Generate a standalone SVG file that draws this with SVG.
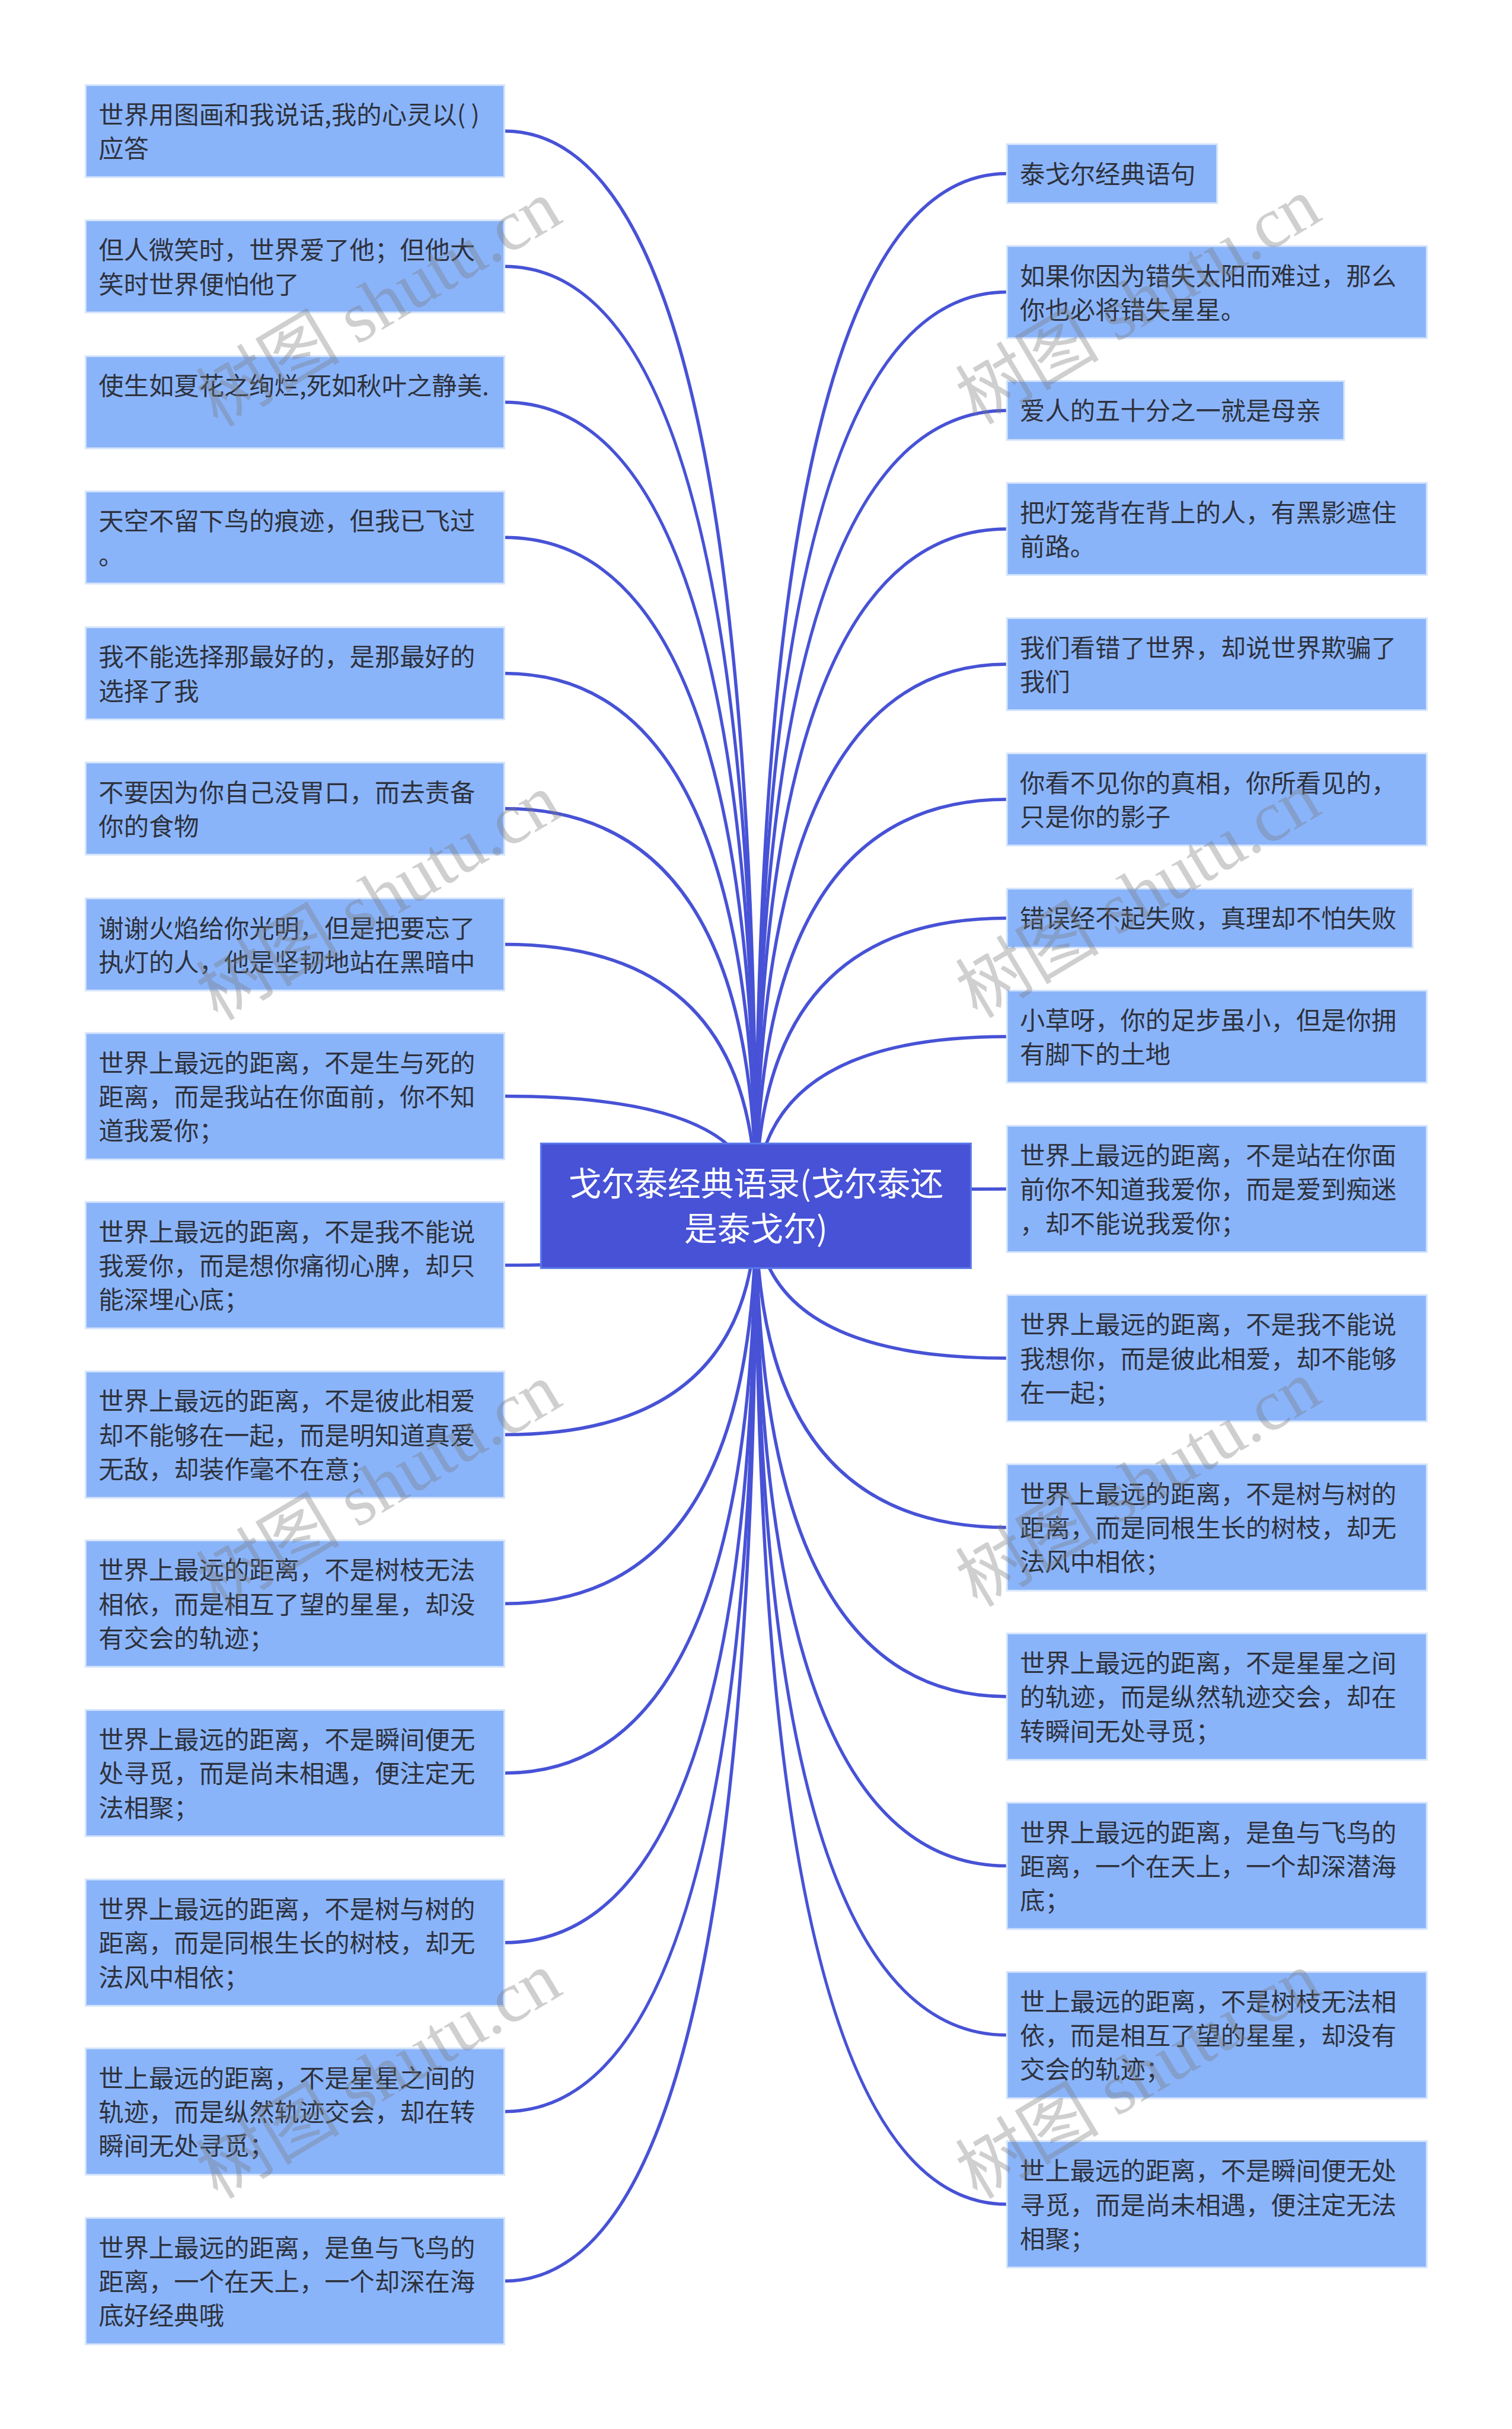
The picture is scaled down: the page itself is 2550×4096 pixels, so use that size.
<svg xmlns="http://www.w3.org/2000/svg" width="2550" height="4096" viewBox="0 0 2550 4096">
<style>
.n rect{fill:#8ab4fa;stroke:#d6e5fc;stroke-width:3}
.n text{font-family:"Noto Sans CJK SC","Noto Sans",sans-serif;font-size:42.5px;fill:#2e323d}
.c path{fill:none;stroke:#4752d6;stroke-width:5.5}
.wm text{font-family:"Liberation Serif","Noto Sans CJK SC",serif;font-size:122px;fill:#7a7a7a;fill-opacity:0.36;text-anchor:middle}
</style>
<rect width="2550" height="4096" fill="#ffffff"/>
<g transform="scale(0.996)">
<g id="connectors" class="c">
<path d="M854,222 Q1280,222 1280,2041"/>
<path d="M854,451 Q1280,451 1280,2041"/>
<path d="M854,681 Q1280,681 1280,2041"/>
<path d="M854,910 Q1280,910 1280,2041"/>
<path d="M854,1140 Q1280,1140 1280,2041"/>
<path d="M854,1369 Q1280,1369 1280,2041"/>
<path d="M854,1599 Q1280,1599 1280,2041"/>
<path d="M854,1856 Q1280,1856 1280,2041"/>
<path d="M854,2142 Q1280,2142 1280,2041"/>
<path d="M854,2429 Q1280,2429 1280,2041"/>
<path d="M854,2715 Q1280,2715 1280,2041"/>
<path d="M854,3002 Q1280,3002 1280,2041"/>
<path d="M854,3289 Q1280,3289 1280,2041"/>
<path d="M854,3575 Q1280,3575 1280,2041"/>
<path d="M854,3862 Q1280,3862 1280,2041"/>
<path d="M1705,294 Q1280,294 1280,2041"/>
<path d="M1705,494.5 Q1280,494.5 1280,2041"/>
<path d="M1705,695 Q1280,695 1280,2041"/>
<path d="M1705,895.5 Q1280,895.5 1280,2041"/>
<path d="M1705,1124.5 Q1280,1124.5 1280,2041"/>
<path d="M1705,1353.5 Q1280,1353.5 1280,2041"/>
<path d="M1705,1554.5 Q1280,1554.5 1280,2041"/>
<path d="M1705,1755 Q1280,1755 1280,2041"/>
<path d="M1705,2013 Q1280,2013 1280,2041"/>
<path d="M1705,2299.5 Q1280,2299.5 1280,2041"/>
<path d="M1705,2586 Q1280,2586 1280,2041"/>
<path d="M1705,2872.5 Q1280,2872.5 1280,2041"/>
<path d="M1705,3159 Q1280,3159 1280,2041"/>
<path d="M1705,3445.5 Q1280,3445.5 1280,2041"/>
<path d="M1705,3732 Q1280,3732 1280,2041"/>
</g>
<g id="root">
<rect x="916" y="1936" width="728" height="211" fill="#4752d6" stroke="#5a78ea" stroke-width="3"/>
<text font-family="'Noto Sans CJK SC','Noto Sans',sans-serif" font-size="56" fill="#ffffff" text-anchor="middle"><tspan x="1280" y="2024">戈尔泰经典语录(戈尔泰还</tspan><tspan x="1280" y="2100">是泰戈尔)</tspan></text>
</g>
<g id="L1" class="n" transform="translate(145,144)"><rect width="709" height="156"/><text><tspan x="22" y="66">世界用图画和我说话,我的心灵以( )</tspan><tspan x="22" y="123.5">应答</tspan></text></g>
<g id="L2" class="n" transform="translate(145,373)"><rect width="709" height="156"/><text><tspan x="22" y="66">但人微笑时，世界爱了他；但他大</tspan><tspan x="22" y="123.5">笑时世界便怕他了</tspan></text></g>
<g id="L3" class="n" transform="translate(145,603)"><rect width="709" height="156"/><text><tspan x="22" y="66">使生如夏花之绚烂,死如秋叶之静美.</tspan></text></g>
<g id="L4" class="n" transform="translate(145,832)"><rect width="709" height="156"/><text><tspan x="22" y="66">天空不留下鸟的痕迹，但我已飞过</tspan><tspan x="22" y="123.5">。</tspan></text></g>
<g id="L5" class="n" transform="translate(145,1062)"><rect width="709" height="156"/><text><tspan x="22" y="66">我不能选择那最好的，是那最好的</tspan><tspan x="22" y="123.5">选择了我</tspan></text></g>
<g id="L6" class="n" transform="translate(145,1291)"><rect width="709" height="156"/><text><tspan x="22" y="66">不要因为你自己没胃口，而去责备</tspan><tspan x="22" y="123.5">你的食物</tspan></text></g>
<g id="L7" class="n" transform="translate(145,1521)"><rect width="709" height="156"/><text><tspan x="22" y="66">谢谢火焰给你光明，但是把要忘了</tspan><tspan x="22" y="123.5">执灯的人，他是坚韧地站在黑暗中</tspan></text></g>
<g id="L8" class="n" transform="translate(145,1749)"><rect width="709" height="214"/><text><tspan x="22" y="66">世界上最远的距离，不是生与死的</tspan><tspan x="22" y="123.5">距离，而是我站在你面前，你不知</tspan><tspan x="22" y="181">道我爱你；</tspan></text></g>
<g id="L9" class="n" transform="translate(145,2035)"><rect width="709" height="214"/><text><tspan x="22" y="66">世界上最远的距离，不是我不能说</tspan><tspan x="22" y="123.5">我爱你，而是想你痛彻心脾，却只</tspan><tspan x="22" y="181">能深埋心底；</tspan></text></g>
<g id="L10" class="n" transform="translate(145,2322)"><rect width="709" height="214"/><text><tspan x="22" y="66">世界上最远的距离，不是彼此相爱</tspan><tspan x="22" y="123.5">却不能够在一起，而是明知道真爱</tspan><tspan x="22" y="181">无敌，却装作毫不在意；</tspan></text></g>
<g id="L11" class="n" transform="translate(145,2608)"><rect width="709" height="214"/><text><tspan x="22" y="66">世界上最远的距离，不是树枝无法</tspan><tspan x="22" y="123.5">相依，而是相互了望的星星，却没</tspan><tspan x="22" y="181">有交会的轨迹；</tspan></text></g>
<g id="L12" class="n" transform="translate(145,2895)"><rect width="709" height="214"/><text><tspan x="22" y="66">世界上最远的距离，不是瞬间便无</tspan><tspan x="22" y="123.5">处寻觅，而是尚未相遇，便注定无</tspan><tspan x="22" y="181">法相聚；</tspan></text></g>
<g id="L13" class="n" transform="translate(145,3182)"><rect width="709" height="214"/><text><tspan x="22" y="66">世界上最远的距离，不是树与树的</tspan><tspan x="22" y="123.5">距离，而是同根生长的树枝，却无</tspan><tspan x="22" y="181">法风中相依；</tspan></text></g>
<g id="L14" class="n" transform="translate(145,3468)"><rect width="709" height="214"/><text><tspan x="22" y="66">世上最远的距离，不是星星之间的</tspan><tspan x="22" y="123.5">轨迹，而是纵然轨迹交会，却在转</tspan><tspan x="22" y="181">瞬间无处寻觅；</tspan></text></g>
<g id="L15" class="n" transform="translate(145,3755)"><rect width="709" height="214"/><text><tspan x="22" y="66">世界上最远的距离，是鱼与飞鸟的</tspan><tspan x="22" y="123.5">距离，一个在天上，一个却深在海</tspan><tspan x="22" y="181">底好经典哦</tspan></text></g>
<g id="R1" class="n" transform="translate(1705,244)"><rect width="356" height="100"/><text><tspan x="22" y="66">泰戈尔经典语句</tspan></text></g>
<g id="R2" class="n" transform="translate(1705,416.5)"><rect width="711" height="156"/><text><tspan x="22" y="66">如果你因为错失太阳而难过，那么</tspan><tspan x="22" y="123.5">你也必将错失星星。</tspan></text></g>
<g id="R3" class="n" transform="translate(1705,645)"><rect width="571" height="100"/><text><tspan x="22" y="66">爱人的五十分之一就是母亲</tspan></text></g>
<g id="R4" class="n" transform="translate(1705,817.5)"><rect width="711" height="156"/><text><tspan x="22" y="66">把灯笼背在背上的人，有黑影遮住</tspan><tspan x="22" y="123.5">前路。</tspan></text></g>
<g id="R5" class="n" transform="translate(1705,1046.5)"><rect width="711" height="156"/><text><tspan x="22" y="66">我们看错了世界，却说世界欺骗了</tspan><tspan x="22" y="123.5">我们</tspan></text></g>
<g id="R6" class="n" transform="translate(1705,1275.5)"><rect width="711" height="156"/><text><tspan x="22" y="66">你看不见你的真相，你所看见的，</tspan><tspan x="22" y="123.5">只是你的影子</tspan></text></g>
<g id="R7" class="n" transform="translate(1705,1504.5)"><rect width="687" height="100"/><text><tspan x="22" y="66">错误经不起失败，真理却不怕失败</tspan></text></g>
<g id="R8" class="n" transform="translate(1705,1677)"><rect width="711" height="156"/><text><tspan x="22" y="66">小草呀，你的足步虽小，但是你拥</tspan><tspan x="22" y="123.5">有脚下的土地</tspan></text></g>
<g id="R9" class="n" transform="translate(1705,1906)"><rect width="711" height="214"/><text><tspan x="22" y="66">世界上最远的距离，不是站在你面</tspan><tspan x="22" y="123.5">前你不知道我爱你，而是爱到痴迷</tspan><tspan x="22" y="181">，却不能说我爱你；</tspan></text></g>
<g id="R10" class="n" transform="translate(1705,2192.5)"><rect width="711" height="214"/><text><tspan x="22" y="66">世界上最远的距离，不是我不能说</tspan><tspan x="22" y="123.5">我想你，而是彼此相爱，却不能够</tspan><tspan x="22" y="181">在一起；</tspan></text></g>
<g id="R11" class="n" transform="translate(1705,2479)"><rect width="711" height="214"/><text><tspan x="22" y="66">世界上最远的距离，不是树与树的</tspan><tspan x="22" y="123.5">距离，而是同根生长的树枝，却无</tspan><tspan x="22" y="181">法风中相依；</tspan></text></g>
<g id="R12" class="n" transform="translate(1705,2765.5)"><rect width="711" height="214"/><text><tspan x="22" y="66">世界上最远的距离，不是星星之间</tspan><tspan x="22" y="123.5">的轨迹，而是纵然轨迹交会，却在</tspan><tspan x="22" y="181">转瞬间无处寻觅；</tspan></text></g>
<g id="R13" class="n" transform="translate(1705,3052)"><rect width="711" height="214"/><text><tspan x="22" y="66">世界上最远的距离，是鱼与飞鸟的</tspan><tspan x="22" y="123.5">距离，一个在天上，一个却深潜海</tspan><tspan x="22" y="181">底；</tspan></text></g>
<g id="R14" class="n" transform="translate(1705,3338.5)"><rect width="711" height="214"/><text><tspan x="22" y="66">世上最远的距离，不是树枝无法相</tspan><tspan x="22" y="123.5">依，而是相互了望的星星，却没有</tspan><tspan x="22" y="181">交会的轨迹；</tspan></text></g>
<g id="R15" class="n" transform="translate(1705,3625)"><rect width="711" height="214"/><text><tspan x="22" y="66">世上最远的距离，不是瞬间便无处</tspan><tspan x="22" y="123.5">寻觅，而是尚未相遇，便注定无法</tspan><tspan x="22" y="181">相聚；</tspan></text></g>
<g id="watermark" class="wm">
<text transform="translate(642,515) rotate(-30.8)" y="40">树图 shutu.cn</text>
<text transform="translate(1928,511) rotate(-30.8)" y="40">树图 shutu.cn</text>
<text transform="translate(642,1520) rotate(-30.8)" y="40">树图 shutu.cn</text>
<text transform="translate(1928,1516) rotate(-30.8)" y="40">树图 shutu.cn</text>
<text transform="translate(642,2518) rotate(-30.8)" y="40">树图 shutu.cn</text>
<text transform="translate(1928,2513) rotate(-30.8)" y="40">树图 shutu.cn</text>
<text transform="translate(642,3515) rotate(-30.8)" y="40">树图 shutu.cn</text>
<text transform="translate(1928,3515) rotate(-30.8)" y="40">树图 shutu.cn</text>
</g>
</g>
</svg>
